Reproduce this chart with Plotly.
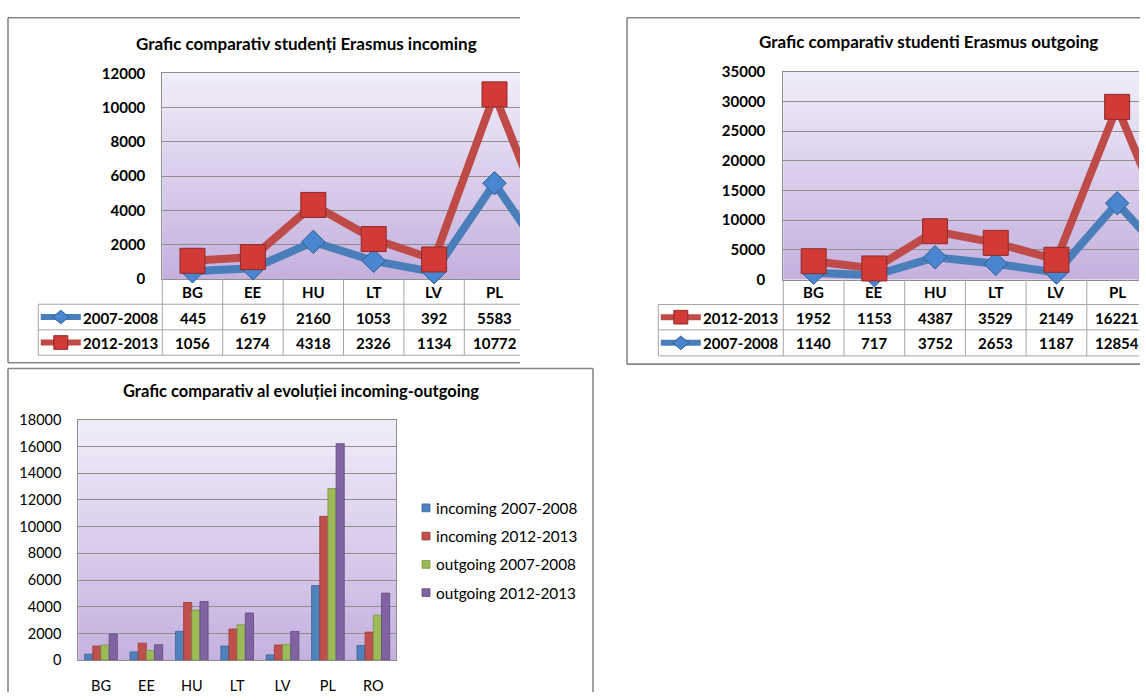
import plotly.graph_objects as go

W, H = 1146, 700
FONT = "Lato"

# ---------------- data ----------------
categories = ["BG", "EE", "HU", "LT", "LV", "PL", "RO"]
n_table_cols = 6  # columns visible in the cropped data tables

# line chart "incoming" (RO point lies beyond the crop, only its segment shows)
in_0708 = [445, 619, 2160, 1053, 392, 5583, 430]
in_1213 = [1056, 1274, 4318, 2326, 1134, 10772, 1870]

# line chart "outgoing" (stacked line chart)
out_1213 = [1952, 1153, 4387, 3529, 2149, 16221, 2730]
out_0708 = [1140, 717, 3752, 2653, 1187, 12854, 1670]

# clustered column chart
bar_names = ["incoming 2007-2008", "incoming 2012-2013", "outgoing 2007-2008", "outgoing 2012-2013"]
bar_in_0708 = [445, 619, 2160, 1053, 392, 5583, 1100]
bar_in_1213 = [1056, 1274, 4318, 2326, 1134, 10772, 2100]
bar_out_0708 = [1140, 717, 3752, 2653, 1187, 12854, 3370]
bar_out_1213 = [1952, 1153, 4387, 3529, 2149, 16221, 5020]

title_in = "Grafic comparativ studenți Erasmus incoming"
title_out = "Grafic comparativ studenti Erasmus outgoing"
title_bar = "Grafic comparativ al evoluției incoming-outgoing"
label_0708 = "2007-2008"
label_1213 = "2012-2013"

# ---------------- styles ----------------
BLUE_LINE = "#4A7EBB"
RED_LINE = "#BE4B48"
BLUE_MARK = "#4A86CF"
BLUE_EDGE = "#2F5F95"
RED_MARK = "#D13A36"
RED_EDGE = "#8E2B28"
BAR_COLORS = ["#4F81BD", "#C0504D", "#9BBB59", "#8064A2"]
BAR_EDGES = ["#3A6598", "#9A3B38", "#7A9640", "#62497F"]
GRID = "#8E8E8E"
FRAME = "#878787"
TABLE = "#A6A6A6"


def fx(px):
    return px / W


def fy(py):
    return 1 - py / H


fig = go.Figure()

# ---------- chart 1: incoming ----------
fig.add_trace(go.Scatter(x=categories, y=in_0708, mode="lines", line=dict(color=BLUE_LINE, width=8),
                         xaxis="x", yaxis="y", showlegend=False, hoverinfo="skip"))
fig.add_trace(go.Scatter(x=categories, y=in_1213, mode="lines", line=dict(color=RED_LINE, width=8),
                         xaxis="x", yaxis="y", showlegend=False, hoverinfo="skip"))
fig.add_trace(go.Scatter(x=categories[:n_table_cols], y=in_0708[:n_table_cols], mode="markers",
                         marker=dict(symbol="diamond", size=18, color=BLUE_MARK, line=dict(color=BLUE_EDGE, width=1)),
                         cliponaxis=False, xaxis="x", yaxis="y", showlegend=False))
fig.add_trace(go.Scatter(x=categories[:n_table_cols], y=in_1213[:n_table_cols], mode="markers",
                         marker=dict(symbol="square", size=25, color=RED_MARK, line=dict(color=RED_EDGE, width=1)),
                         cliponaxis=False, xaxis="x", yaxis="y", showlegend=False))

# ---------- chart 2: outgoing (stacked) ----------
fig.add_trace(go.Scatter(x=categories, y=out_0708, mode="lines", line=dict(color=BLUE_LINE, width=8),
                         stackgroup="outl", fill="none", xaxis="x2", yaxis="y2", showlegend=False, hoverinfo="skip"))
fig.add_trace(go.Scatter(x=categories, y=out_1213, mode="lines", line=dict(color=RED_LINE, width=8),
                         stackgroup="outl", fill="none", xaxis="x2", yaxis="y2", showlegend=False, hoverinfo="skip"))
fig.add_trace(go.Scatter(x=categories[:n_table_cols], y=out_0708[:n_table_cols], mode="markers",
                         marker=dict(symbol="diamond", size=18, color=BLUE_MARK, line=dict(color=BLUE_EDGE, width=1)),
                         stackgroup="outm", fill="none", cliponaxis=False, xaxis="x2", yaxis="y2", showlegend=False))
fig.add_trace(go.Scatter(x=categories[:n_table_cols], y=out_1213[:n_table_cols], mode="markers",
                         marker=dict(symbol="square", size=25, color=RED_MARK, line=dict(color=RED_EDGE, width=1)),
                         stackgroup="outm", fill="none", cliponaxis=False, xaxis="x2", yaxis="y2", showlegend=False))

# ---------- chart 3: columns ----------
for name, vals, col, edge in zip(bar_names, [bar_in_0708, bar_in_1213, bar_out_0708, bar_out_1213],
                                 BAR_COLORS, BAR_EDGES):
    fig.add_trace(go.Bar(x=categories, y=vals, name=name, marker=dict(color=col, line=dict(color=edge, width=0.8)),
                         xaxis="x3", yaxis="y3", showlegend=False))

shapes = []
annotations = []


def gradient(xd, yd, n=40, top=(241, 237, 249), bottom=(196, 176, 222)):
    for k in range(n):
        t = (k + 0.5) / n
        c = tuple(round(top[j] + (bottom[j] - top[j]) * t) for j in range(3))
        shapes.append(dict(type="rect", xref=xd, yref=yd, x0=0, x1=1,
                           y0=max(0, 1 - (k + 1) / n - 0.003), y1=1 - k / n,
                           fillcolor="rgb(%d,%d,%d)" % c, line=dict(width=0), layer="below"))


gradient("x domain", "y domain")
gradient("x2 domain", "y2 domain")
gradient("x3 domain", "y3 domain")


def pline(x0, y0, x1, y1, color=TABLE, width=1):
    shapes.append(dict(type="line", xref="paper", yref="paper", x0=fx(x0), y0=fy(y0), x1=fx(x1), y1=fy(y1),
                       line=dict(color=color, width=width)))


# frames
pline(8, 8, 8, 362, FRAME, 1.6)
pline(8, 8, 520, 8, FRAME, 1.6)
pline(8, 362, 520, 362, FRAME, 1.6)
pline(627, 8, 627, 363.5, FRAME, 1.6)
pline(627, 8, 1140, 8, FRAME, 1.6)
pline(627, 363.5, 1140, 363.5, FRAME, 1.6)
pline(8, 368, 593, 368, FRAME, 1.6)
pline(8, 368, 8, 700, FRAME, 1.6)
pline(593, 368, 593, 700, FRAME, 1.6)

bold = dict(family=FONT, size=15, color="black", weight="bold")


def data_table(xname, left, plot_left, right, top, rows, row_lines, header_y):
    # rows: list of (label, values, kind)
    hb, r1b, r2b = row_lines
    for yy in (hb, r1b, r2b):
        pline(left, yy, right, yy)
    pline(left, hb, left, r2b)
    pline(plot_left, top, plot_left, r2b)
    for i in range(n_table_cols):
        shapes.append(dict(type="line", xref=xname, yref="paper", x0=i + 0.5, x1=i + 0.5,
                           y0=fy(top), y1=fy(r2b), line=dict(color=TABLE, width=1)))
        annotations.append(dict(xref=xname, yref="paper", x=i, y=fy(header_y), text=categories[i],
                                showarrow=False, font=bold, xanchor="center", yanchor="middle"))
    centers = [(hb + r1b) / 2, (r1b + r2b) / 2]
    for (label, vals, kind), cy in zip(rows, centers):
        for i in range(n_table_cols):
            annotations.append(dict(xref=xname, yref="paper", x=i, y=fy(cy + 0.5), text=str(vals[i]),
                                    showarrow=False, font=bold, xanchor="center", yanchor="middle"))
        annotations.append(dict(xref="paper", yref="paper", x=fx(left + 43), y=fy(cy + 0.5), text=label,
                                showarrow=False, font=bold, xanchor="left", yanchor="middle"))
        # legend key
        kx = left + 22.5
        color = BLUE_LINE if kind == "blue" else RED_LINE
        pline(left + 2.5, cy, left + 42.5, cy, color, 6)
        if kind == "blue":
            hw, hh = 8, 7
            path = "M %f %f L %f %f L %f %f L %f %f Z" % (
                fx(kx - hw), fy(cy), fx(kx), fy(cy - hh), fx(kx + hw), fy(cy), fx(kx), fy(cy + hh))
            shapes.append(dict(type="path", xref="paper", yref="paper", path=path,
                               fillcolor=BLUE_MARK, line=dict(color=BLUE_EDGE, width=1)))
        else:
            s = 7
            shapes.append(dict(type="rect", xref="paper", yref="paper", x0=fx(kx - s), x1=fx(kx + s),
                               y0=fy(cy + s), y1=fy(cy - s), fillcolor=RED_MARK, line=dict(color=RED_EDGE, width=1)))


data_table("x", 38.3, 162.3, 520, 276, [(label_0708, in_0708, "blue"), (label_1213, in_1213, "red")],
           (302, 328.3, 354.3), 289)
data_table("x2", 658.3, 783.3, 1139, 276.7, [(label_1213, out_1213, "red"), (label_0708, out_0708, "blue")],
           (302.3, 328.3, 355), 289.5)

# titles
title_font = dict(family=FONT, size=17, color="black", weight="bold")
annotations.append(dict(xref="paper", yref="paper", x=fx(306), y=fy(34), text=title_in, showarrow=False,
                        font=title_font, xanchor="center", yanchor="middle"))
annotations.append(dict(xref="paper", yref="paper", x=fx(928), y=fy(32), text=title_out, showarrow=False,
                        font=title_font, xanchor="center", yanchor="middle"))
annotations.append(dict(xref="paper", yref="paper", x=fx(301), y=fy(391), text=title_bar, showarrow=False,
                        font=dict(family=FONT, size=16.5, color="black", weight="bold"),
                        xanchor="center", yanchor="middle"))

# custom legend for column chart
reg = dict(family=FONT, size=15.3, color="black")
for k, (name, col, edge) in enumerate(zip(bar_names, BAR_COLORS, BAR_EDGES)):
    cy = 511 + 29 * k
    shapes.append(dict(type="rect", xref="paper", yref="paper", x0=fx(422), x1=fx(430), y0=fy(cy + 4), y1=fy(cy - 4),
                       fillcolor=col, line=dict(color=edge, width=0.8)))
    annotations.append(dict(xref="paper", yref="paper", x=fx(434), y=fy(cy), text=name, showarrow=False,
                            font=reg, xanchor="left", yanchor="middle"))

axis_common = dict(zeroline=False, layer="below traces")

fig.update_layout(
    width=W, height=H, margin=dict(l=0, r=0, t=0, b=0),
    paper_bgcolor="white", plot_bgcolor="rgba(0,0,0,0)",
    barmode="group", bargap=0.28, bargroupgap=0,
    shapes=shapes, annotations=annotations,
    xaxis=dict(domain=[fx(162.3), fx(520)], range=[-0.5, -0.5 + (520 - 162.3) / 60.4], type="category",
               categoryorder="array", categoryarray=categories, showticklabels=False, showgrid=False,
               showline=True, mirror=True, linecolor=GRID, linewidth=1, ticks="", anchor="y", **axis_common),
    yaxis=dict(domain=[fy(276), fy(65)], range=[0, 12000], dtick=2000, tickformat="d", showgrid=True,
               gridcolor=GRID, showline=True, linecolor=GRID, ticks="", ticklabelstandoff=13, tickfont=bold,
               anchor="x", **axis_common),
    xaxis2=dict(domain=[fx(783.3), fx(1139)], range=[-0.5, -0.5 + (1139 - 783.3) / 60.7], type="category",
                categoryorder="array", categoryarray=categories, showticklabels=False, showgrid=False,
                showline=True, mirror=True, linecolor=GRID, linewidth=1, ticks="", anchor="y2", **axis_common),
    yaxis2=dict(domain=[fy(276.7), fy(63.3)], range=[0, 35000], dtick=5000, tickformat="d", showgrid=True,
                gridcolor=GRID, showline=True, linecolor=GRID, ticks="", ticklabelstandoff=14, tickfont=bold,
                anchor="x2", **axis_common),
    xaxis3=dict(domain=[fx(78.3), fx(396)], type="category", categoryorder="array", categoryarray=categories,
                showgrid=False, showline=True, mirror=True, linecolor=GRID, ticks="", ticklabelstandoff=12,
                tickfont=dict(family=FONT, size=14.5, color="black"), anchor="y3", **axis_common),
    yaxis3=dict(domain=[fy(667.3), fy(420.7)], range=[0, 18000], dtick=2000, tickformat="d", showgrid=True,
                gridcolor=GRID, showline=True, mirror=True, linecolor=GRID, ticks="", ticklabelstandoff=13,
                tickfont=dict(family=FONT, size=14.5, color="black"), anchor="x3", **axis_common),
)

fig.write_html("out.html", config={"displayModeBar": False},
               post_script="document.body.style.margin='0';document.body.style.overflow='hidden';")
